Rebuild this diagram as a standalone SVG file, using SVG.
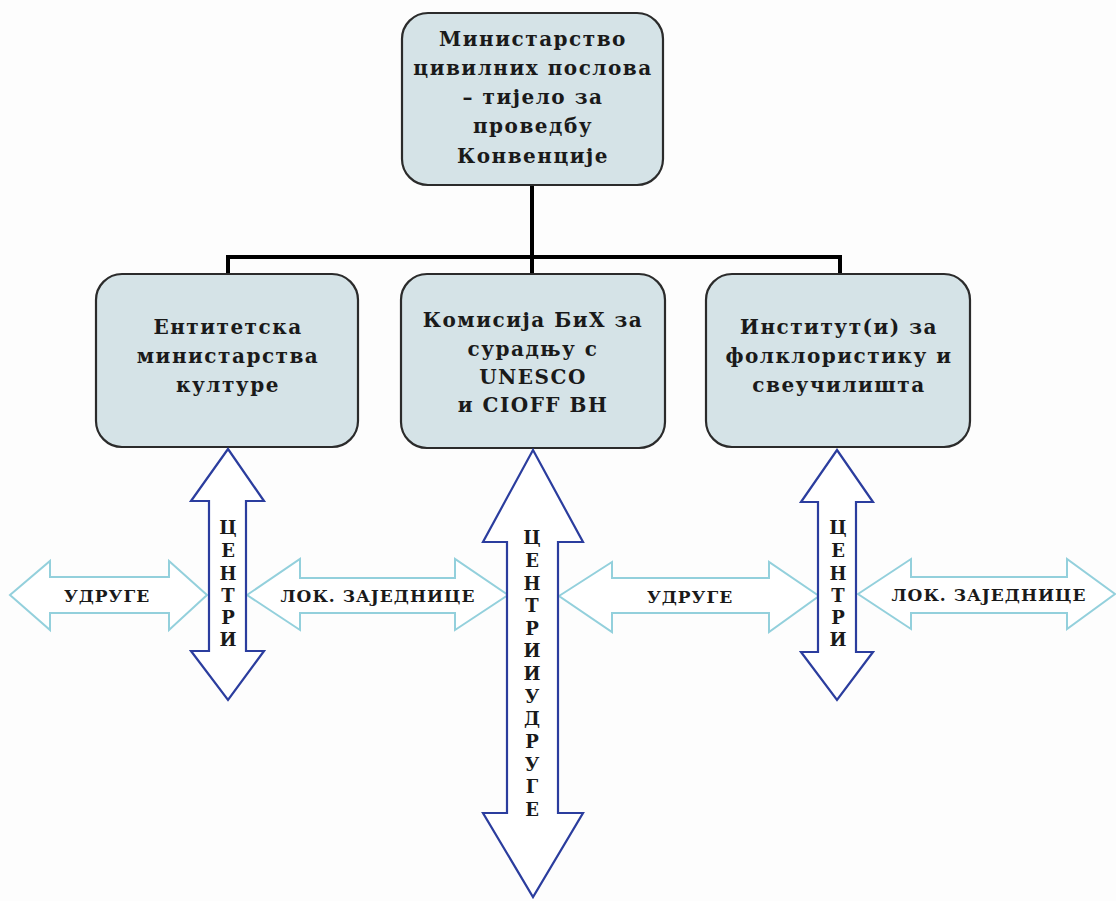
<svg xmlns="http://www.w3.org/2000/svg" width="1116" height="901" viewBox="0 0 1116 901">
<style>
.box{fill:#d5e3e7;stroke:#2b2b2b;stroke-width:2.2}
.t{font-family:"DejaVu Serif","Liberation Serif",serif;font-weight:bold;font-size:20px;letter-spacing:1.5px;fill:#1a1a1a;text-anchor:middle}
.v{font-family:"DejaVu Serif","Liberation Serif",serif;font-weight:bold;font-size:18px;fill:#1a1a1a;text-anchor:middle}
.h{font-family:"DejaVu Serif","Liberation Serif",serif;font-weight:bold;font-size:17px;letter-spacing:1px;fill:#1a1a1a;text-anchor:middle}
.ha{fill:#ffffff;stroke:#93d0dc;stroke-width:2}
.va{fill:#ffffff;stroke:#2b3d9e;stroke-width:2.2}
.conn{fill:none;stroke:#000;stroke-width:4}
</style>
<rect width="1116" height="901" fill="#fdfdfd"/>
<g id="connectors">
<path class="conn" d="M532,185 V257 M226,257 H842 M228,255 V274 M532,255 V274 M840,255 V274"/>
</g>
<g id="ministry">
<rect class="box" x="402" y="13" width="261" height="172" rx="26"/>
<text class="t" x="533" y="46">Министарство</text>
<text class="t" x="533" y="75">цивилних послова</text>
<text class="t" x="533" y="104">– тијело за</text>
<text class="t" x="533" y="133">проведбу</text>
<text class="t" x="533" y="163">Конвенције</text>
</g>
<g id="entity">
<rect class="box" x="96" y="274" width="262" height="173" rx="26"/>
<text class="t" x="228" y="334">Ентитетска</text>
<text class="t" x="228" y="363">министарства</text>
<text class="t" x="228" y="392">културе</text>
</g>
<g id="commission">
<rect class="box" x="401" y="274" width="264" height="174" rx="26"/>
<text class="t" x="533" y="327">Комисија БиХ за</text>
<text class="t" x="533" y="356">сурадњу с</text>
<text class="t" x="533" y="384">UNESCO</text>
<text class="t" x="533" y="412">и CIOFF BH</text>
</g>
<g id="institutes">
<rect class="box" x="706" y="274" width="264" height="173" rx="26"/>
<text class="t" x="839" y="334">Институт(и) за</text>
<text class="t" x="839" y="363">фолклористику и</text>
<text class="t" x="839" y="392">свеучилишта</text>
</g>
<g id="h-udruge-left">
<polygon class="ha" points="10,595 50,561 50,577 169,577 169,561 207,595 169,630 169,613 50,613 50,630"/>
<text class="h" x="107" y="602">УДРУГЕ</text>
</g>
<g id="h-lok-left">
<polygon class="ha" points="247,595 300,559 300,578 455,578 455,559 508,595 455,630 455,613 300,613 300,630"/>
<text class="h" x="378" y="602">ЛОК. ЗАЈЕДНИЦЕ</text>
</g>
<g id="h-udruge-right">
<polygon class="ha" points="559,596 612,562 612,578 769,578 769,562 819,596 769,632 769,613 612,613 612,632"/>
<text class="h" x="690" y="603">УДРУГЕ</text>
</g>
<g id="h-lok-right">
<polygon class="ha" points="858,594 911,559 911,577 1067,577 1067,559 1115,594 1067,629 1067,613 911,613 911,629"/>
<text class="h" x="989" y="601">ЛОК. ЗАЈЕДНИЦЕ</text>
</g>
<g id="v-centri-left">
<polygon class="va" points="228,449 264,501 246,501 246,651 264,651 228,700 191,651 209,651 209,501 191,501"/>
<text class="v" x="228" y="534">Ц</text>
<text class="v" x="228" y="557">Е</text>
<text class="v" x="228" y="580">Н</text>
<text class="v" x="228" y="602">Т</text>
<text class="v" x="228" y="624">Р</text>
<text class="v" x="228" y="646">И</text>
</g>
<g id="v-centri-udruge">
<polygon class="va" points="533,450 583,542 558,542 558,813 583,813 533,897 483,813 507,813 507,542 483,542"/>
<text class="v" x="532" y="544">Ц</text>
<text class="v" x="532" y="567">Е</text>
<text class="v" x="532" y="590">Н</text>
<text class="v" x="532" y="612">Т</text>
<text class="v" x="532" y="635">Р</text>
<text class="v" x="532" y="657">И</text>
<text class="v" x="532" y="680">И</text>
<text class="v" x="532" y="703">У</text>
<text class="v" x="532" y="725">Д</text>
<text class="v" x="532" y="748">Р</text>
<text class="v" x="532" y="771">У</text>
<text class="v" x="532" y="793">Г</text>
<text class="v" x="532" y="816">Е</text>
</g>
<g id="v-centri-right">
<polygon class="va" points="837,450 873,502 856,502 856,652 873,652 837,700 801,652 818,652 818,502 801,502"/>
<text class="v" x="838" y="534">Ц</text>
<text class="v" x="838" y="557">Е</text>
<text class="v" x="838" y="580">Н</text>
<text class="v" x="838" y="602">Т</text>
<text class="v" x="838" y="624">Р</text>
<text class="v" x="838" y="646">И</text>
</g>
</svg>
